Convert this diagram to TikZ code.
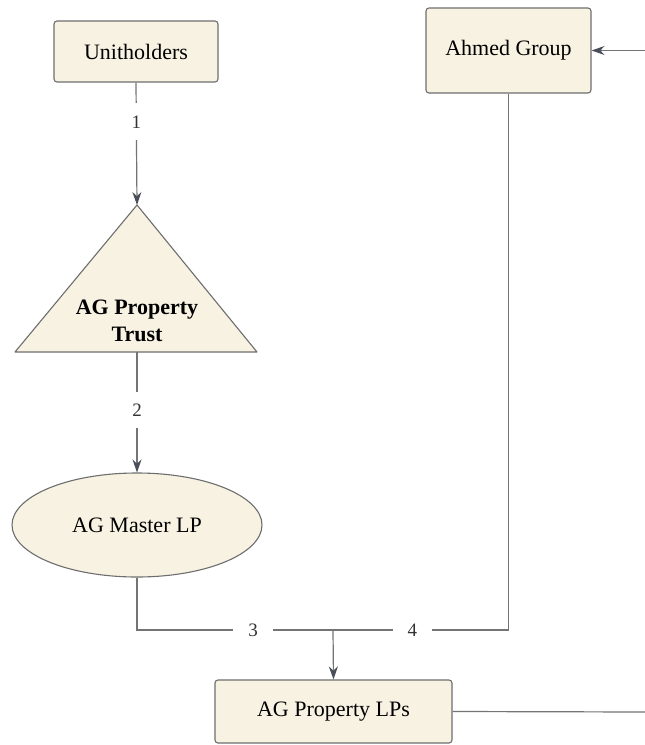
\documentclass[tikz,border=0pt]{standalone}
\usepackage{fontspec}
\setmainfont{Liberation Serif}
\usetikzlibrary{shapes.geometric,arrows.meta}
\definecolor{boxfill}{HTML}{F8F2E3}
\definecolor{boxline}{HTML}{6E6E6E}
\definecolor{linec}{HTML}{747474}
\definecolor{tipc}{HTML}{4A4E5A}
\begin{document}
\begin{tikzpicture}[x=1pt,y=-1pt,
  shapebox/.style={draw=boxline, fill=boxfill, line width=1.1pt, inner sep=0pt, font=\fontsize{22}{26}\selectfont},
  rbox/.style={shapebox, rectangle, rounded corners=3pt},
  conn/.style={draw=linec, line width=1.2pt},
  arr/.style={conn, -{Stealth[length=13pt,width=9pt,color=tipc]}},
  lbl/.style={fill=white, inner xsep=15pt, inner ysep=12pt, text=black!80, font=\fontsize{19}{22}\selectfont}]
\useasboundingbox (0,0) rectangle (645,745);
\fill[white] (0,0) rectangle (645,745);
% nodes
\node[rbox, minimum width=164pt, minimum height=61pt] (uh) at (136,51.5) {Unitholders};
\node[rbox, minimum width=165pt, minimum height=85pt] (ag) at (508.5,50.5) {Ahmed Group};
\coordinate (tA) at (137,205);
\coordinate (tB) at (137,352);
\draw[draw=boxline, fill=boxfill, line width=1.1pt, line join=round] (15,352) -- (tA) -- (257,352) -- cycle;
\node[align=center, font=\fontsize{22}{27}\selectfont\bfseries] (trust) at (137,321) {AG Property\\Trust};
\node[shapebox, ellipse, minimum width=250pt, minimum height=104pt] (mlp) at (137,525) {AG Master LP};
\node[rbox, minimum width=237pt, minimum height=63pt] (lps) at (333.5,711.5) {AG Property LPs};
\coordinate (j) at (333,630);
\coordinate (re) at (645,712);
\coordinate (rt) at (645,50.5);
% connectors
\draw[arr] (uh.south) -- node[lbl, pos=0.32] {1} (tA);
\draw[arr] (tB) -- node[lbl, pos=0.48] {2} (mlp.north);
\draw[conn] (mlp.south) |- node[lbl, pos=0.796] {3} (j);
\draw[conn] (ag.south) |- node[lbl, pos=0.774] {4} (j);
\draw[arr] (j) -- (lps.north);
\draw[conn] (lps.east) -- (re);
\draw[arr] (rt) -- (ag.east);
\end{tikzpicture}
\end{document}
